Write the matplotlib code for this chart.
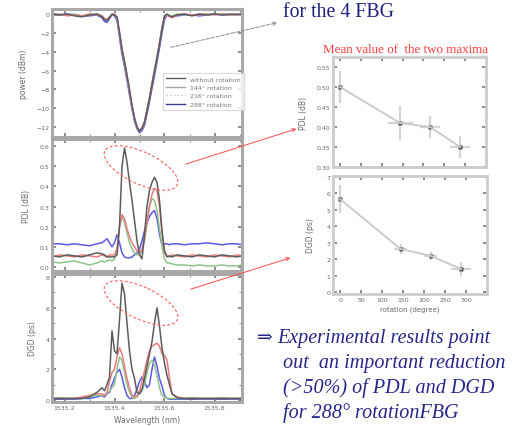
import matplotlib
matplotlib.use('Agg')
import matplotlib.pyplot as plt
import matplotlib.transforms as mtransforms
from matplotlib.patches import Ellipse, FancyArrowPatch
from matplotlib.lines import Line2D

# wavelength grid (nm)
wl = [1535.15, 1535.18, 1535.21, 1535.24, 1535.27, 1535.30, 1535.33,
      1535.35, 1535.36, 1535.37, 1535.38, 1535.39, 1535.40, 1535.41,
      1535.42, 1535.43, 1535.44, 1535.45, 1535.46, 1535.47, 1535.48,
      1535.49, 1535.50, 1535.51, 1535.52, 1535.53, 1535.54, 1535.55,
      1535.56, 1535.57, 1535.58, 1535.59, 1535.60, 1535.61, 1535.62,
      1535.63, 1535.65, 1535.68, 1535.71, 1535.74, 1535.77, 1535.80,
      1535.83, 1535.86, 1535.89, 1535.91]

labels = ['without rotation', '144° rotation', '216° rotation', '288° rotation']
colors = ['#5c5c5c', '#ec7c7c', '#8cc48c', '#5a5ae6']

# transmitted power (dB)
pw_0 = [0.0, -0.1, 0.0, -0.2, -0.3, -0.1, 0.0, -0.3, -0.6, -0.7, -0.4, 0.0,
        -0.1, -0.3, -1.9, -3.7, -5.0, -6.5, -8.0, -9.7, -11.0, -12.0, -12.4,
        -12.1, -11.5, -10.3, -9.0, -7.5, -6.1, -4.7, -3.2, -1.6, -0.2, 0.0,
        -0.2, -0.3, -0.1, 0.0, -0.2, 0.0, -0.1, 0.0, -0.1, 0.0, -0.1, 0.0]
pw_144 = [-0.1, 0.0, -0.2, -0.1, -0.2, 0.0, -0.1, -0.2, -0.5, -0.6, -0.3, -0.1,
          0.0, -0.4, -2.0, -3.8, -5.1, -6.6, -8.1, -9.8, -11.1, -12.0, -12.4,
          -12.2, -11.5, -10.2, -8.9, -7.4, -6.0, -4.6, -3.1, -1.5, -0.3, -0.1,
          -0.3, -0.4, -0.1, 0.0, -0.1, -0.1, 0.0, -0.1, 0.0, -0.1, 0.0, -0.1]
pw_216 = [0.0, -0.1, -0.1, 0.0, -0.2, -0.1, 0.0, -0.2, -0.5, -0.6, -0.3, 0.0,
          -0.1, -0.4, -2.1, -3.8, -5.2, -6.6, -8.2, -9.8, -11.1, -12.1, -12.4,
          -12.1, -11.4, -10.1, -8.8, -7.3, -5.9, -4.5, -3.0, -1.4, -0.2, 0.0,
          -0.2, -0.2, 0.0, -0.1, -0.1, 0.0, -0.1, 0.0, 0.0, -0.1, 0.0, 0.0]
pw_288 = [-0.1, -0.1, 0.0, -0.1, -0.2, -0.2, -0.1, -0.4, -0.8, -0.9, -0.5, -0.1,
          -0.2, -0.7, -2.5, -4.3, -5.6, -7.0, -8.6, -10.1, -11.4, -12.2, -12.6,
          -12.4, -11.8, -10.6, -9.3, -7.9, -6.5, -5.1, -3.6, -2.0, -0.6, -0.1,
          -0.2, -0.3, -0.2, -0.1, -0.1, -0.2, -0.1, 0.0, -0.1, -0.1, 0.0, -0.1]

# PDL (dB)
pdl_0 = [0.055, 0.05, 0.06, 0.055, 0.05, 0.06, 0.07, 0.065, 0.06, 0.05, 0.05, 0.05,
         0.05, 0.06, 0.20, 0.50, 0.59, 0.52, 0.42, 0.33, 0.23, 0.13, 0.06,
         0.04, 0.16, 0.30, 0.38, 0.42, 0.445, 0.42, 0.33, 0.18, 0.08, 0.05,
         0.055, 0.05, 0.06, 0.055, 0.05, 0.06, 0.055, 0.05, 0.06, 0.055, 0.05, 0.055]
pdl_144 = [0.05, 0.06, 0.055, 0.05, 0.06, 0.055, 0.05, 0.06, 0.055, 0.05, 0.06, 0.06,
           0.06, 0.09, 0.20, 0.26, 0.24, 0.19, 0.15, 0.12, 0.10, 0.08, 0.07,
           0.09, 0.14, 0.22, 0.30, 0.36, 0.39, 0.38, 0.30, 0.17, 0.07, 0.055,
           0.05, 0.06, 0.055, 0.05, 0.06, 0.055, 0.05, 0.06, 0.055, 0.05, 0.06, 0.055]
pdl_216 = [0.025, 0.02, 0.025, 0.03, 0.02, 0.01, 0.02, 0.03, 0.025, 0.03, 0.035, 0.03,
           0.04, 0.08, 0.20, 0.25, 0.22, 0.17, 0.12, 0.09, 0.07, 0.06, 0.06,
           0.08, 0.13, 0.22, 0.30, 0.34, 0.33, 0.28, 0.19, 0.10, 0.04, 0.02,
           0.02, 0.015, 0.01, 0.01, 0.005, 0.01, 0.005, 0.005, 0.01, 0.005, 0.005, 0.01]
pdl_288 = [0.115, 0.115, 0.11, 0.115, 0.11, 0.105, 0.115, 0.12, 0.13, 0.14, 0.12, 0.10,
           0.12, 0.16, 0.12, 0.07, 0.05, 0.045, 0.045, 0.05, 0.06, 0.07, 0.09,
           0.13, 0.18, 0.22, 0.25, 0.27, 0.28, 0.24, 0.16, 0.11, 0.115, 0.115,
           0.11, 0.115, 0.115, 0.11, 0.115, 0.115, 0.12, 0.115, 0.11, 0.115, 0.115, 0.11]

# DGD (ps)
dgd_0 = [0.1, 0.1, 0.1, 0.1, 0.1, 0.2, 0.5, 0.8, 0.6, 1.0, 1.5, 4.5,
         3.2, 3.0, 5.2, 7.6, 6.9, 5.0, 3.2, 2.0, 1.4, 0.5, 0.4,
         0.7, 1.4, 2.2, 3.0, 3.8, 5.0, 6.0, 4.8, 3.4, 2.4, 1.6,
         1.0, 0.4, 0.15, 0.1, 0.1, 0.1, 0.1, 0.1, 0.1, 0.1, 0.1, 0.1]
dgd_144 = [0.1, 0.1, 0.1, 0.1, 0.2, 0.3, 0.4, 0.4, 0.3, 0.5, 1.2, 1.8,
           2.0, 2.8, 3.4, 3.0, 2.2, 1.4, 0.8, 0.3, 0.2, 0.3, 0.6,
           1.2, 1.9, 2.6, 3.2, 3.5, 3.6, 3.7, 3.5, 3.0, 2.9, 2.6,
           1.4, 0.4, 0.2, 0.1, 0.1, 0.1, 0.1, 0.1, 0.1, 0.1, 0.1, 0.1]
dgd_216 = [0.1, 0.15, 0.1, 0.1, 0.1, 0.2, 0.3, 0.3, 0.3, 0.4, 0.6, 0.8,
           1.0, 2.0, 2.8, 2.6, 1.8, 1.0, 0.5, 0.2, 0.1, 0.2, 0.4,
           0.6, 1.0, 1.8, 2.4, 2.6, 2.3, 1.6, 0.8, 0.3, 0.2, 0.1,
           0.1, 0.1, 0.1, 0.1, 0.15, 0.1, 0.1, 0.1, 0.15, 0.1, 0.1, 0.1]
dgd_288 = [0.05, 0.05, 0.05, 0.05, 0.1, 0.1, 0.2, 0.3, 0.2, 0.4, 0.5, 1.0,
           1.4, 1.8, 2.0, 1.5, 0.8, 0.3, 0.1, 0.1, 0.3, 0.7, 1.2,
           1.5, 1.2, 0.8, 1.0, 2.0, 2.8, 2.2, 1.4, 0.9, 0.3, 0.1,
           0.05, 0.05, 0.05, 0.05, 0.05, 0.05, 0.05, 0.05, 0.05, 0.05, 0.05, 0.05]

# mean of the two maxima vs rotation
rot = [0, 144, 216, 288]
pdl_mean = [0.50, 0.41, 0.40, 0.35]
pdl_yerr = [0.04, 0.042, 0.028, 0.028]
pdl_xerr = [0, 30, 24, 24]
dgd_mean = [5.65, 2.62, 2.2, 1.4]
dgd_yerr = [0.85, 0.3, 0.25, 0.45]
dgd_xerr = [0, 16, 15, 24]

W, H = 514, 427
fig = plt.figure(figsize=(W / 100, H / 100), dpi=100)
px = mtransforms.Affine2D().scale(1 / W, -1 / H).translate(0, 1) + fig.transFigure


def add_ax(x0, y0, x1, y1):
    return fig.add_axes([x0 / W, 1 - y1 / H, (x1 - x0) / W, (y1 - y0) / H])


def style(ax, frame='#a8a8a8', lw=2.2):
    for s in ax.spines.values():
        s.set_color(frame)
        s.set_linewidth(lw)
    ax.tick_params(direction='in', length=3, width=1.2, color='#7a7a7a',
                   labelsize=4.5, labelcolor='#6a6a6a', top=True, right=True, pad=2)
    ax.tick_params(which='minor', direction='in', length=2, width=0.8,
                   color='#9a9a9a', top=True, right=True)
    for t in ax.get_xticklabels() + ax.get_yticklabels():
        t.set_family('DejaVu Sans')


ax1 = add_ax(52, 10, 242, 138)
ax2 = add_ax(52, 140, 242, 272)
ax3 = add_ax(52, 275, 242, 403)

sets = [(ax1, [pw_0, pw_144, pw_216, pw_288]),
        (ax2, [pdl_0, pdl_144, pdl_216, pdl_288]),
        (ax3, [dgd_0, dgd_144, dgd_216, dgd_288])]
for ax, series in sets:
    for k in [3, 2, 1, 0]:
        ax.plot(wl, series[k], color=colors[k], lw=1.1)
    ax.set_xlim(1535.15, 1535.91)
    ax.set_xticks([1535.2, 1535.4, 1535.6, 1535.8])
    ax.set_xticks([1535.3, 1535.5, 1535.7, 1535.9], minor=True)

ax1.set_ylim(-13.06, 0.53)
ax1.set_yticks([0, -2, -4, -6, -8, -10, -12])
ax2.set_ylim(-0.02, 0.635)
ax2.set_yticks([0.0, 0.1, 0.2, 0.3, 0.4, 0.5, 0.6])
ax2.set_yticklabels(['0.0', '0.1', '0.2', '0.3', '0.4', '0.5', '0.6'])
ax3.set_ylim(-0.13, 8.2)
ax3.set_yticks([0, 2, 4, 6, 8])
ax3.set_yticks([1, 3, 5, 7], minor=True)
ax1.tick_params(labelbottom=False)
ax2.tick_params(labelbottom=False)
ax3.set_xticklabels(['1535.2', '1535.4', '1535.6', '1535.8'])

ylab = dict(fontsize=5.5, color='#6a6a6a', labelpad=6)
ax1.set_ylabel('power (dBm)', **ylab)
ax2.set_ylabel('PDL (dB)', **ylab)
ax3.set_ylabel('DGD (ps)', **ylab)
ax3.set_xlabel('Wavelength (nm)', fontsize=5.5, color='#6a6a6a', labelpad=4)

for ax in (ax1, ax2, ax3):
    style(ax)

handles = [Line2D([], [], color=colors[0], lw=1),
           Line2D([], [], color='#a8a8a8', lw=1),
           Line2D([], [], color='#c0c0c0', lw=1, ls=':'),
           Line2D([], [], color='#3a3a90', lw=1)]
leg = ax1.legend(handles, labels, loc='upper left', bbox_to_anchor=(0.584, 0.5),
                 fontsize=4.5, frameon=True, fancybox=False, handlelength=3,
                 borderpad=0.5, labelspacing=0.5, borderaxespad=0)
leg.get_frame().set_edgecolor('#d0d0d0')
leg.get_frame().set_linewidth(0.8)
for t in leg.get_texts():
    t.set_color('#777777')

# right panels
ax4 = add_ax(333, 58, 486, 168)
ax5 = add_ax(333, 177, 487, 295)
for ax, m, ye, xe in [(ax4, pdl_mean, pdl_yerr, pdl_xerr), (ax5, dgd_mean, dgd_yerr, dgd_xerr)]:
    ax.errorbar(rot, m, yerr=ye, xerr=xe, fmt='-', color='#cccccc', ecolor='#d4d4d4',
                elinewidth=1.6, lw=1.4, capsize=0)
    ax.plot(rot, m, 's', color='#505050', ms=2.2, mec='none')
    ax.set_xlim(-17, 350)
    ax.set_xticks([0, 50, 100, 150, 200, 250, 300])
    style(ax, frame='#cccccc', lw=2)

ax4.set_ylim(0.30, 0.575)
ax4.set_yticks([0.30, 0.35, 0.40, 0.45, 0.50, 0.55])
ax4.set_yticklabels(['0.30', '0.35', '0.40', '0.45', '0.50', '0.55'])
ax4.tick_params(labelbottom=False)
ax4.set_ylabel('PDL (dB)', fontsize=5.5, color='#6a6a6a', labelpad=6)
ax5.set_ylim(-0.12, 7.06)
ax5.set_yticks([0, 1, 2, 3, 4, 5, 6, 7])
ax5.set_ylabel('DGD (ps)', fontsize=5.5, color='#6a6a6a', labelpad=8)
ax5.set_xlabel('rotation (degree)', fontsize=5, color='#6a6a6a', labelpad=3)
for ax in (ax4, ax5):
    for t in ax.get_xticklabels() + ax.get_yticklabels():
        t.set_family('DejaVu Sans')

# slide annotations
serif = ['Liberation Serif', 'DejaVu Serif']
navy = '#1f1f80'
fig.text(283, 17, 'for the 4 FBG', transform=px, fontsize=14.3, color=navy,
         family=serif, va='baseline')
fig.text(323, 53, 'Mean value of  the two maxima', transform=px, fontsize=9.4,
         color='#ff3a3a', family=serif, va='baseline')

body = [(277, 343, 'Experimental results point'),
        (283, 368, 'out  an important reduction'),
        (283, 393, '(>50%) of PDL and DGD'),
        (283, 418, 'for 288° rotationFBG')]
fig.text(257, 343, '⇒', transform=px, fontsize=13.5, color='#26268a',
         family=['DejaVu Serif'], va='baseline')
for x, y, s in body:
    fig.text(x, y, s, transform=px, fontsize=14.5, color='#26268a', family=serif,
             style='italic', va='baseline')

for cy in (169, 304):
    fig.add_artist(Ellipse((141, cy), 80, 32, angle=25, transform=px, fill=False,
                           ec='#ff5a5a', lw=0.8, ls=(0, (2.5, 2))))

fig.add_artist(FancyArrowPatch((168, 49), (280, 23), transform=px, arrowstyle='->',
                               mutation_scale=6, color='#8a8a8a', lw=0.7, ls='--'))
fig.add_artist(FancyArrowPatch((183, 166), (299, 129), transform=px, arrowstyle='->',
                               mutation_scale=6, color='#ff4a4a', lw=0.7))
fig.add_artist(FancyArrowPatch((188, 291), (293, 258), transform=px, arrowstyle='->',
                               mutation_scale=6, color='#ff4a4a', lw=0.7))

fig.savefig('out.png', dpi=100)
